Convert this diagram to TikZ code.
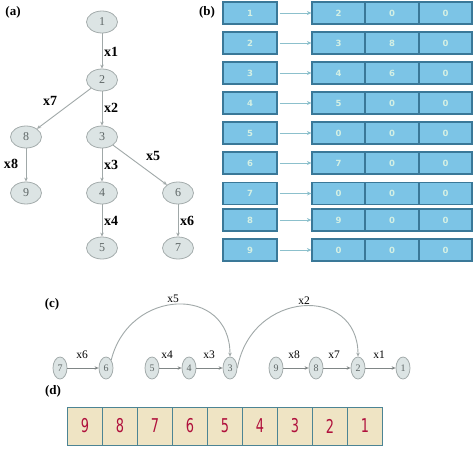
\documentclass[tikz,border=0pt]{standalone}
\usepackage{fontspec}
\usepackage{graphicx}
\setmainfont{Liberation Serif}
\newfontfamily\boxfont{DejaVu Sans}
\usetikzlibrary{shapes.geometric,arrows.meta}
\definecolor{ellfill}{HTML}{DCE4E4}
\definecolor{ellline}{HTML}{A4ACAC}
\definecolor{numgray}{HTML}{5E6666}
\definecolor{edgegray}{HTML}{A0A8A8}
\definecolor{bfill}{HTML}{7CC4E6}
\definecolor{bline}{HTML}{3A7898}
\definecolor{btext}{HTML}{D4F0E4}
\definecolor{barrow}{HTML}{8CC0CC}
\definecolor{dfill}{HTML}{EFE4C4}
\definecolor{dline}{HTML}{4C8494}
\definecolor{dtext}{HTML}{B0103C}
\tikzset{
  tnode/.style={ellipse, draw=ellline, fill=ellfill, line width=0.8pt,
    minimum width=31pt, minimum height=22pt, inner sep=0pt,
    text=numgray, font=\fontsize{12}{12}\selectfont},
  cnode/.style={ellipse, draw=ellline, fill=ellfill, line width=0.8pt,
    minimum width=14pt, minimum height=22pt, inner sep=0pt,
    text=numgray, font=\fontsize{10}{10}\selectfont},
  tedge/.style={draw=edgegray, line width=0.9pt, -{Stealth[length=4pt,width=3.5pt]}},
  cedge/.style={draw=edgegray!80!black, line width=0.9pt, -{Stealth[length=4pt,width=3.5pt]}},
  elab/.style={font=\bfseries\fontsize{14}{14}\selectfont, inner sep=0pt},
  clab/.style={font=\fontsize{11.5}{11.5}\selectfont, inner sep=0pt},
  plab/.style={font=\bfseries\fontsize{13}{13}\selectfont, inner sep=0pt},
  lbox/.style={draw=bline, fill=bfill, line width=1.2pt, minimum width=54pt,
    minimum height=22pt, inner sep=0pt, text=btext, font=\boxfont\bfseries\fontsize{8.5}{8.5}\selectfont},
  rbox/.style={lbox, minimum width=53pt},
  barr/.style={draw=barrow, line width=0.8pt, shorten <=2pt, -{Stealth[length=4.5pt,width=4pt]}},
  dbox/.style={draw=dline, fill=dfill, line width=1pt, minimum width=35pt,
    minimum height=38pt, inner sep=0pt, text=dtext,
    font=\boxfont\fontsize{19}{19}\selectfont}
}
\begin{document}
\begin{tikzpicture}[x=1pt,y=-1pt]
\useasboundingbox (0,0) rectangle (473,448);
\fill[white] (0,0) rectangle (473,448);
% panel labels
\node[plab] (pa) at (13,12) {(a)};
\node[plab] (pb) at (207,12) {(b)};
\node[plab] (pc) at (52,304) {(c)};
\node[plab] (pd) at (53,391) {(d)};
% (a) tree
\node[tnode] (a1) at (102,22) {1};
\node[tnode] (a2) at (102,80) {2};
\node[tnode] (a8) at (26,137) {8};
\node[tnode] (a3) at (102,137) {3};
\node[tnode] (a9) at (26,193) {9};
\node[tnode] (a4) at (102,193) {4};
\node[tnode] (a6) at (178,193) {6};
\node[tnode] (a5) at (102,248) {5};
\node[tnode] (a7) at (178,248) {7};
\draw[tedge] (a1) -- (a2);
\draw[tedge] (a2) -- (a8);
\draw[tedge] (a2) -- (a3);
\draw[tedge] (a8) -- (a9);
\draw[tedge] (a3) -- (a4);
\draw[tedge] (a3) -- (a6);
\draw[tedge] (a4) -- (a5);
\draw[tedge] (a6) -- (a7);
\node[elab] (lx1) at (111,52) {x1};
\node[elab] (lx7) at (50,101) {x7};
\node[elab] (lx2) at (111,108) {x2};
\node[elab] (lx8) at (11,164) {x8};
\node[elab] (lx3) at (111,165) {x3};
\node[elab] (lx5) at (153,156) {x5};
\node[elab] (lx4) at (111,221) {x4};
\node[elab] (lx6) at (187,221) {x6};
% (b) adjacency table
\foreach \i/\y/\p/\q/\r in {1/13/2/0/0, 2/43/3/8/0, 3/73/4/6/0, 4/103/5/0/0, 5/133/0/0/0,
  6/163/7/0/0, 7/193.5/0/0/0, 8/220/9/0/0, 9/250/0/0/0}{
  \node[lbox] (bl\i) at (250,\y) {\i};
  \node[rbox] (bp\i) at (338.5,\y) {\p};
  \node[rbox] (bq\i) at (392,\y) {\q};
  \node[rbox] (br\i) at (445.5,\y) {\r};
  \draw[barr] (bl\i) -- (bp\i);
}
% (c) chains
\node[cnode] (c7) at (60,368) {7};
\node[cnode] (c6) at (106,368) {6};
\node[cnode] (c5) at (152,368) {5};
\node[cnode] (c4) at (189,368) {4};
\node[cnode] (c3) at (230,368) {3};
\node[cnode] (c9) at (276,368) {9};
\node[cnode] (c8) at (316,368) {8};
\node[cnode] (c2) at (358,368) {2};
\node[cnode] (c1) at (403,368) {1};
\draw[cedge] (c7) -- (c6);
\draw[cedge] (c5) -- (c4);
\draw[cedge] (c4) -- (c3);
\draw[cedge] (c9) -- (c8);
\draw[cedge] (c8) -- (c2);
\draw[cedge] (c2) -- (c1);
\draw[tedge] (c6.north east) .. controls +(18,-72) and +(0,-72) .. (c3.north);
\draw[tedge] (c3.east) .. controls +(14,-78) and +(0,-72) .. (c2.north);
\node[clab] (lc6) at (82,355) {x6};
\node[clab] (lc4) at (167,355) {x4};
\node[clab] (lc3) at (209,355) {x3};
\node[clab] (lc8) at (294,355) {x8};
\node[clab] (lc7) at (334,355) {x7};
\node[clab] (lc1) at (379,355) {x1};
\node[clab] (lc5) at (173,299) {x5};
\node[clab] (lc2) at (304,301) {x2};
% (d) order
\foreach \k/\v in {0/9,1/8,2/7,3/6,4/5,5/4,6/3,7/2,8/1}{
  \node[dbox] (d\v) at ({85+35*\k},426) {\scalebox{0.68}[1]{\v}};
}
\end{tikzpicture}
\end{document}
